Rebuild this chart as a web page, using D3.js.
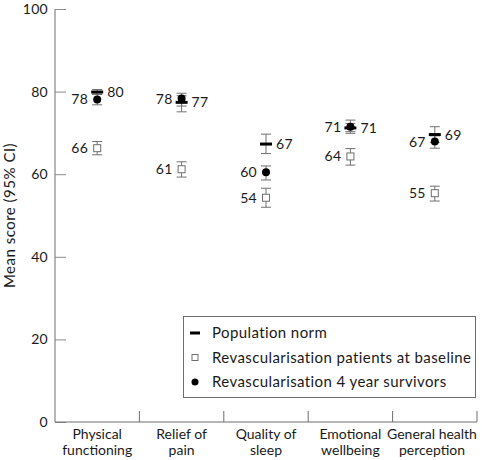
<!DOCTYPE html>
<html><head><meta charset="utf-8">
<script src="https://cdn.jsdelivr.net/npm/d3@7"></script>
<style>
body{margin:0;background:#fff;}
svg text{font-family:Lato,"Noto Sans",sans-serif;fill:#1a1a1a;}
</style></head>
<body><svg id="chart" width="482" height="460"></svg>
<script>
const categories = [["Physical","functioning"],["Relief of","pain"],["Quality of","sleep"],["Emotional","wellbeing"],["General health","perception"]];
const normMean = [79.9, 77.4, 67.3, 71.2, 69.6];
const normLo   = [79.3, 75.1, 65.0, 70.3, 67.7];
const normHi   = [80.5, 79.0, 69.7, 72.3, 71.5];
const baseMean = [66.3, 61.2, 54.3, 64.3, 55.4];
const baseLo   = [64.7, 59.3, 52.0, 62.2, 53.5];
const baseHi   = [67.9, 63.0, 56.6, 66.2, 57.1];
const survMean = [78.1, 78.3, 60.5, 71.5, 67.9];
const survLo   = [76.8, 76.5, 58.6, 69.9, 66.3];
const survHi   = [79.4, 79.6, 62.0, 73.1, 69.3];
const normLabel = [80, 77, 67, 71, 69];
const survLabel = [78, 78, 60, 71, 67];
const baseLabel = [66, 61, 54, 64, 55];
const yTicks = [0, 20, 40, 60, 80, 100];
const legendItems = ["Population norm", "Revascularisation patients at baseline", "Revascularisation 4 year survivors"];

const svg = d3.select("#chart");
const L = 55, R = 477, T = 9, B = 422;
const x = d3.scaleBand().domain(d3.range(categories.length)).range([L, R]);
const y = d3.scaleLinear().domain([0, 100]).range([B, T]);
const axisCol = "#6e6e6e", errCol = "#707070";

// y axis
const ya = svg.append("g").attr("transform", `translate(${L},0)`)
  .call(d3.axisRight(y).tickValues(yTicks).tickSize(11).tickFormat(""));
ya.select(".domain").attr("stroke", axisCol).attr("d", `M0,${T}V${B}`);
ya.selectAll(".tick line").attr("stroke", "#8a8a8a");
svg.append("g").selectAll("text").data(yTicks).join("text")
  .attr("x", L - 7).attr("y", d => y(d)).attr("dy", "0.36em")
  .attr("text-anchor", "end").attr("font-size", 14).attr("letter-spacing", 0.3).text(d => d);
svg.append("text").attr("transform", `translate(15,${(T+B)/2}) rotate(-90)`)
  .attr("text-anchor", "middle").attr("font-size", 15).attr("letter-spacing", 0.5).text("Mean score (95% CI)");

// x axis
const xa = svg.append("g").attr("transform", `translate(0,${B})`)
  .call(d3.axisTop(x).tickSize(0).tickFormat(""));
xa.select(".domain").attr("stroke", axisCol).attr("d", `M${L},0H${R}`);
svg.append("g").selectAll("line").data(d3.range(1, categories.length + 1)).join("line")
  .attr("x1", i => x(i - 1) + x.bandwidth()).attr("x2", i => x(i - 1) + x.bandwidth())
  .attr("y1", B).attr("y2", B - 11).attr("stroke", axisCol);
const cl = svg.append("g").selectAll("text").data(categories).join("text")
  .attr("text-anchor", "middle").attr("font-size", 14);
cl.each(function(d, i) {
  const t = d3.select(this);
  const c = Math.min(x(i) + x.bandwidth()/2, 432);
  d.forEach((s, k) => t.append("tspan").attr("x", c).attr("y", 439 + k*16).text(s));
});

const cx = i => x(i) + x.bandwidth()/2;
function errBars(mean, lo, hi) {
  const g = svg.append("g");
  mean.forEach((m, i) => {
    g.append("line").attr("x1", cx(i)).attr("x2", cx(i)).attr("y1", y(lo[i])).attr("y2", y(hi[i])).attr("stroke", errCol);
    [lo[i], hi[i]].forEach(v => g.append("line").attr("x1", cx(i) - 5).attr("x2", cx(i) + 5)
      .attr("y1", y(v)).attr("y2", y(v)).attr("stroke", errCol));
  });
}
errBars(baseMean, baseLo, baseHi);
errBars(normMean, normLo, normHi);
errBars(survMean, survLo, survHi);

// markers
svg.append("g").selectAll("rect").data(baseMean).join("rect")
  .attr("x", (d, i) => cx(i) - 3.5).attr("y", d => y(d) - 3.5).attr("width", 7).attr("height", 7)
  .attr("fill", "#fff").attr("stroke", "#6e6e6e");
svg.append("g").selectAll("line").data(normMean).join("line")
  .attr("x1", (d, i) => cx(i) - 6).attr("x2", (d, i) => cx(i) + 6)
  .attr("y1", d => y(d)).attr("y2", d => y(d)).attr("stroke", "#000").attr("stroke-width", 3);
svg.append("g").selectAll("circle").data(survMean).join("circle")
  .attr("cx", (d, i) => cx(i)).attr("cy", d => y(d)).attr("r", 4).attr("fill", "#000");

// value labels
function labels(mean, lab, side) {
  svg.append("g").selectAll("text").data(mean).join("text")
    .attr("x", (d, i) => side > 0 ? cx(i) + 10 : cx(i) - 9)
    .attr("y", d => y(d)).attr("dy", "0.36em")
    .attr("text-anchor", side > 0 ? "start" : "end").attr("font-size", 14).attr("letter-spacing", 0.3)
    .text((d, i) => lab[i]);
}
labels(normMean, normLabel, 1);
labels(survMean, survLabel, -1);
labels(baseMean, baseLabel, -1);

// legend
const lg = svg.append("g");
lg.append("rect").attr("x", 183.5).attr("y", 316.5).attr("width", 292).attr("height", 81)
  .attr("fill", "#fff").attr("stroke", "#6e6e6e");
const ly = d3.scalePoint().domain(d3.range(3)).range([333, 382]);
lg.append("line").attr("x1", 190).attr("x2", 200).attr("y1", ly(0)).attr("y2", ly(0)).attr("stroke", "#000").attr("stroke-width", 3);
lg.append("rect").attr("x", 192).attr("y", ly(1) - 3).attr("width", 6).attr("height", 6).attr("fill", "#fff").attr("stroke", "#6e6e6e");
lg.append("circle").attr("cx", 195).attr("cy", ly(2)).attr("r", 3.5).attr("fill", "#000");
lg.selectAll("text").data(legendItems).join("text")
  .attr("x", 212).attr("y", (d, i) => ly(i)).attr("dy", "0.36em").attr("font-size", 15).attr("letter-spacing", 0.4).text(d => d);
</script></body></html>
